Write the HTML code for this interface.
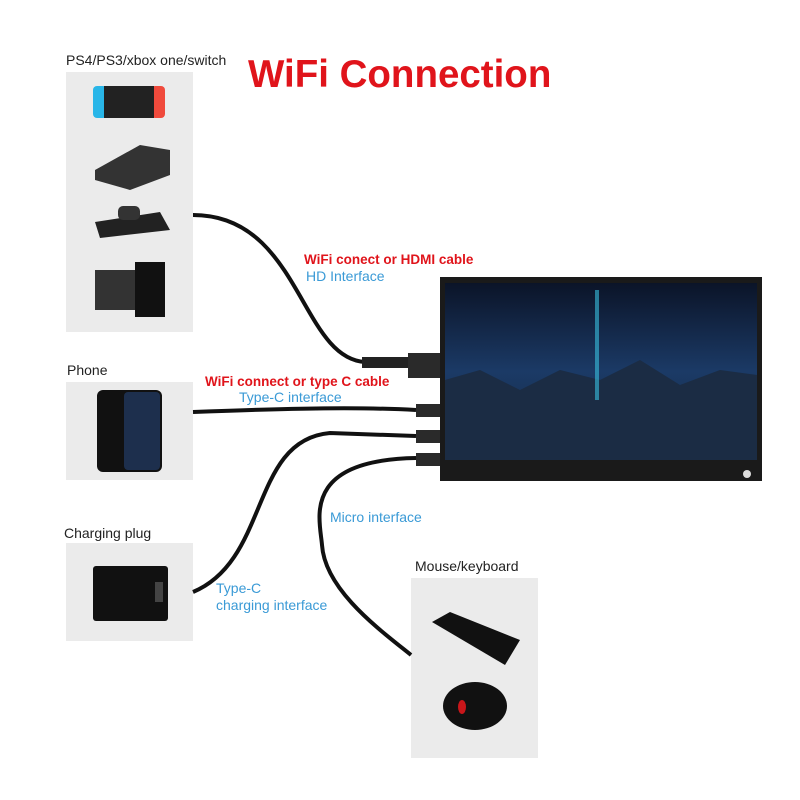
<!DOCTYPE html>
<html><head><style>
body{margin:0;width:800px;height:800px;background:#fff;position:relative;overflow:hidden;font-family:"Liberation Sans",sans-serif}
.t{position:absolute;white-space:nowrap}
.lab{font-size:14px;color:#222}
.red{color:#e0141b;font-weight:bold;font-size:13.5px}
.blue{color:#3a9ad6;font-size:14px}
</style></head><body>
<svg width="800" height="800" style="position:absolute;left:0;top:0">
<rect x="66" y="72" width="127" height="260" fill="#ebebeb"/>
<rect x="66" y="382" width="127" height="98" fill="#ebebeb"/>
<rect x="66" y="543" width="127" height="98" fill="#ebebeb"/>
<rect x="411" y="578" width="127" height="180" fill="#ebebeb"/>
<rect x="93" y="86" width="14" height="32" rx="4" fill="#29b6e8"/>
<rect x="151" y="86" width="14" height="32" rx="4" fill="#f04a3c"/>
<rect x="104" y="86" width="50" height="32" fill="#222"/>
<polygon points="95,170 140,145 170,150 170,175 130,190 95,180" fill="#333"/>
<polygon points="95,222 160,212 170,230 100,238" fill="#222"/>
<rect x="118" y="206" width="22" height="14" rx="5" fill="#333"/>
<rect x="95" y="270" width="45" height="40" fill="#333"/>
<rect x="135" y="262" width="30" height="55" fill="#111"/>
<rect x="97" y="390" width="65" height="82" rx="6" fill="#111"/>
<rect x="124" y="392" width="36" height="78" rx="4" fill="#1d2f4d"/>
<rect x="93" y="566" width="75" height="55" rx="3" fill="#111"/>
<rect x="155" y="582" width="8" height="20" fill="#444"/>
<polygon points="432,622 450,612 520,640 505,665" fill="#111"/>
<ellipse cx="475" cy="706" rx="32" ry="24" fill="#111"/>
<ellipse cx="462" cy="707" rx="4" ry="7" fill="#c8161a"/>
<g fill="none" stroke="#111" stroke-width="4">
<path d="M193,215 C300,215 300,358 365,362 L408,362"/>
<path d="M193,412 C300,408 360,407 416,410"/>
<path d="M193,592 C270,560 250,440 330,433 L416,436"/>
<path d="M416,458 C300,460 320,520 322,545 C325,590 380,630 411,655"/>
</g>
<rect x="362" y="357" width="48" height="11" fill="#222"/>
<rect x="408" y="353" width="33" height="25" fill="#2a2a2a"/>
<rect x="416" y="404" width="25" height="13" fill="#2a2a2a"/>
<rect x="416" y="430" width="25" height="13" fill="#2a2a2a"/>
<rect x="416" y="453" width="25" height="13" fill="#2a2a2a"/>
<rect x="440" y="277" width="322" height="204" fill="#1a1a1a"/>
<defs><linearGradient id="g" x1="0" y1="0" x2="0" y2="1"><stop offset="0" stop-color="#0b1428"/><stop offset="0.5" stop-color="#1b3a66"/><stop offset="1" stop-color="#16283f"/></linearGradient></defs>
<rect x="445" y="283" width="312" height="177" fill="url(#g)"/>
<polygon points="445,460 445,380 480,370 520,390 560,370 600,380 640,360 680,385 720,370 757,375 757,460" fill="#1b2c44"/>
<rect x="595" y="290" width="4" height="110" fill="#39c0e0" opacity="0.6"/>
<circle cx="747" cy="474" r="4" fill="#ddd"/>
</svg>
<div class="t lab" style="left:66px;top:52px">PS4/PS3/xbox one/switch</div>
<div class="t" style="left:248px;top:53px;font-size:38.5px;font-weight:bold;color:#e0141b">WiFi Connection</div>
<div class="t red" style="left:304px;top:252px">WiFi conect or HDMI cable</div>
<div class="t blue" style="left:306px;top:268px">HD Interface</div>
<div class="t lab" style="left:67px;top:362px">Phone</div>
<div class="t red" style="left:205px;top:374px">WiFi connect or type C cable</div>
<div class="t blue" style="left:239px;top:389px">Type-C interface</div>
<div class="t blue" style="left:330px;top:509px">Micro interface</div>
<div class="t lab" style="left:64px;top:525px">Charging plug</div>
<div class="t blue" style="left:216px;top:580px">Type-C</div>
<div class="t blue" style="left:216px;top:597px">charging interface</div>
<div class="t lab" style="left:415px;top:558px">Mouse/keyboard</div>
</body></html>
